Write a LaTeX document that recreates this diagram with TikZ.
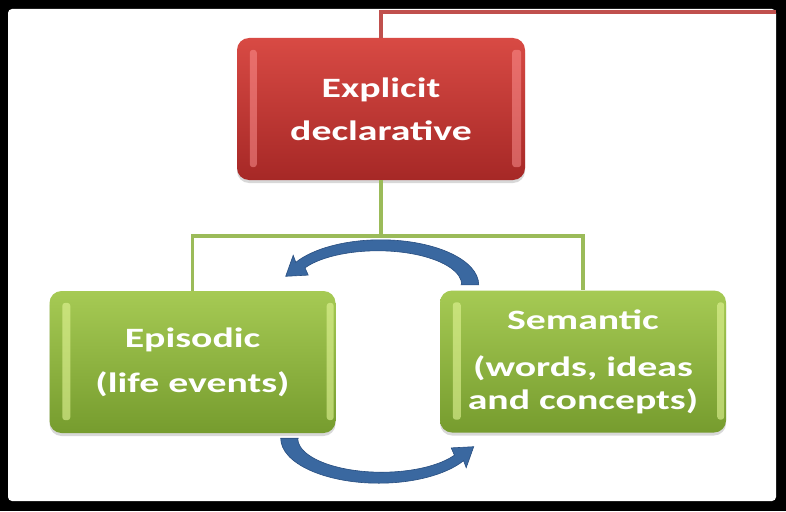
\documentclass[tikz,border=0pt]{standalone}
\usepackage{fontspec}
\newfontfamily\boxfont{Carlito}[FakeStretch=1.42]
\usetikzlibrary{calc,shadows}
\definecolor{redtop}{RGB}{216,74,68}
\definecolor{redbot}{RGB}{166,40,38}
\definecolor{redhl}{RGB}{255,150,150}
\definecolor{greentop}{RGB}{166,202,84}
\definecolor{greenbot}{RGB}{118,156,46}
\definecolor{greenhl}{RGB}{226,245,150}
\definecolor{redline}{RGB}{192,80,77}
\definecolor{greenline}{RGB}{155,187,89}
\definecolor{arrowblue}{RGB}{58,104,160}
\definecolor{arrowedge}{RGB}{40,78,128}
\tikzset{
  box/.style={rounded corners=12pt, minimum width=288pt, minimum height=142pt,
    inner sep=0pt, align=center, text=white,
    font=\boxfont\bfseries\fontsize{28}{33}\selectfont,
    drop shadow={shadow xshift=0pt, shadow yshift=-3pt, opacity=0.3}},
  redbox/.style={box, top color=redtop, bottom color=redbot},
  greenbox/.style={box, top color=greentop, bottom color=greenbot, minimum width=286pt},
  rline/.style={draw=redline, line width=3.5pt},
  gline/.style={draw=greenline, line width=3.5pt},
  hlred/.style={fill=redhl, rounded corners=3pt, opacity=0.5},
  hlgreen/.style={fill=greenhl, rounded corners=3pt, opacity=0.6},
  cyc/.pic={
    \filldraw[fill=arrowblue, draw=arrowedge, line width=0.6pt]
      (80,0) -- (98,0) arc[start angle=0, end angle=-150, x radius=98, y radius=45]
      -- (-87.5,-29.5) -- (-95,-8.5) -- (-72.5,-9.7) -- (-75.7,-17)
      arc[start angle=-150, end angle=0, x radius=84, y radius=34] -- cycle;
  }
}
\begin{document}
\begin{tikzpicture}[x=1pt, y=-1pt]
\useasboundingbox (0,0) rectangle (786,511);
% frame
\fill[black] (0,0) rectangle (786,511);
\fill[white, rounded corners=4pt] (8,9) rectangle (776,501);

% boxes
\node[redbox] (R) at (381,109) {Explicit\\[10pt]declarative};
\node[greenbox] (E) at (192.5,362) {Episodic\\[12pt](life events)};
\node[greenbox] (S) at (583,361.5) {Semantic\\[14pt](words, ideas\\and concepts)};

% highlights
\fill[hlred] ($(R.north west)+(13,12)$) rectangle ($(R.south west)+(20,-13)$);
\fill[hlred] ($(R.north east)+(-13,12)$) rectangle ($(R.south east)+(-4,-13)$);
\fill[hlgreen] ($(E.north west)+(13,12)$) rectangle ($(E.south west)+(21,-13)$);
\fill[hlgreen] ($(E.north east)+(-9,12)$) rectangle ($(E.south east)+(-2,-13)$);
\fill[hlgreen] ($(S.north west)+(13,12)$) rectangle ($(S.south west)+(21,-13)$);
\fill[hlgreen] ($(S.north east)+(-9,12)$) rectangle ($(S.south east)+(-2,-13)$);

% red connector leaving the picture
\coordinate (RT) at (776,12);
\draw[rline] (R.north) |- (RT);

% green connectors
\coordinate (J) at (381,236);
\draw[gline] (R.south) -- (J);
\draw[gline] (J) -| (E.north);
\draw[gline] (J) -| (S.north);

% cycle arrows
\pic at ($(E.north east)+(45,-6)$) {cyc};
\pic[rotate=180] at ($(E.south east)+(43,5)$) {cyc};
\end{tikzpicture}
\end{document}
